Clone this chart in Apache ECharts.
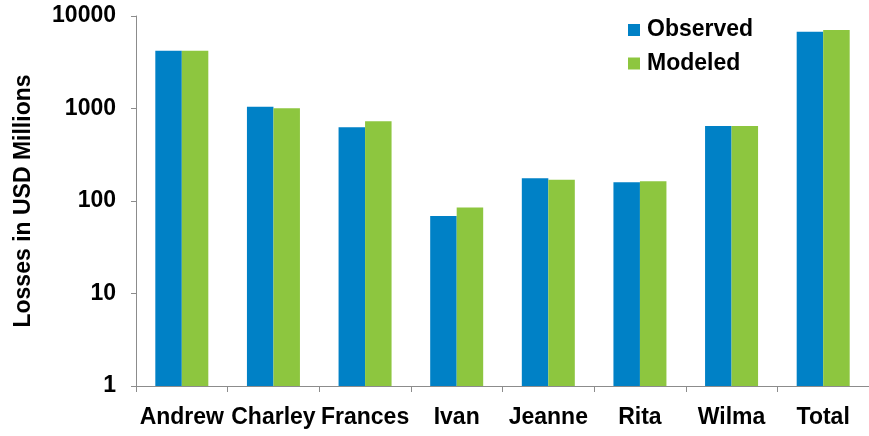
<!DOCTYPE html>
<html>
<head>
<meta charset="utf-8">
<script src="https://cdn.jsdelivr.net/npm/echarts@6/dist/echarts.min.js"></script>
<style>
  html, body { margin: 0; padding: 0; background: #fff; }
  #chart { width: 869px; height: 436px; }
</style>
</head>
<body>
<div id="chart"></div>
<script>
// Hurricane losses, observed vs. modeled (USD millions, log scale)
const categories = ['Andrew', 'Charley', 'Frances', 'Ivan', 'Jeanne', 'Rita', 'Wilma', 'Total'];
const observed = [4200, 1046, 626, 69, 176, 159, 647, 6764];
const modeled = [4200, 1005, 727, 85, 170, 164, 647, 7056];
const yTicks = [1, 10, 100, 1000, 10000];

const FONT = '"Liberation Sans", Arial, Helvetica, sans-serif';
const AXIS_COLOR = '#8c8c8c';
const BLUE = '#0081C6';
const GREEN = '#8DC63F';

const chart = echarts.init(document.getElementById('chart'), null, { renderer: 'canvas' });

chart.setOption({
  animation: false,
  backgroundColor: '#ffffff',
  grid: { left: 136, right: -8, top: 16, bottom: 50, containLabel: false },
  legend: {
    orient: 'vertical',
    left: 628,
    top: 18,
    padding: 0,
    itemWidth: 12,
    itemHeight: 12,
    itemGap: 9.5,
    icon: 'rect',
    textStyle: { fontFamily: FONT, fontWeight: 'bold', fontSize: 23, lineHeight: 24, color: '#000', padding: [0, 0, 0, 2] },
    data: ['Observed', 'Modeled']
  },
  xAxis: {
    type: 'category',
    data: categories,
    axisLine: { show: true, lineStyle: { color: AXIS_COLOR, width: 1 } },
    axisTick: { show: true, alignWithLabel: false, length: 6, lineStyle: { color: AXIS_COLOR } },
    axisLabel: {
      margin: 20,
      interval: 0,
      fontFamily: FONT,
      fontWeight: 'bold',
      fontSize: 23,
      color: '#000'
    },
    splitLine: { show: false }
  },
  yAxis: {
    type: 'log',
    logBase: 10,
    min: 1,
    max: 10000,
    name: 'Losses in USD Millions',
    nameLocation: 'middle',
    nameGap: 101,
    nameRotate: 90,
    nameTextStyle: { fontFamily: FONT, fontWeight: 'bold', fontSize: 23, color: '#000' },
    axisLine: { show: true, lineStyle: { color: AXIS_COLOR, width: 1 } },
    axisTick: { show: true, length: 5, lineStyle: { color: AXIS_COLOR } },
    axisLabel: {
      margin: 20,
      fontFamily: FONT,
      fontWeight: 'bold',
      fontSize: 23,
      color: '#000',
      formatter: function (v) { return yTicks.indexOf(Math.round(v)) >= 0 ? String(Math.round(v)) : ''; }
    },
    splitLine: { show: false },
    minorTick: { show: false }
  },
  series: [
    {
      name: 'Observed',
      type: 'bar',
      data: observed,
      barWidth: 26.5,
      barGap: '0%',
      itemStyle: { color: BLUE }
    },
    {
      name: 'Modeled',
      type: 'bar',
      data: modeled,
      barWidth: 26.5,
      barGap: '0%',
      itemStyle: { color: GREEN }
    }
  ]
});
</script>
</body>
</html>
